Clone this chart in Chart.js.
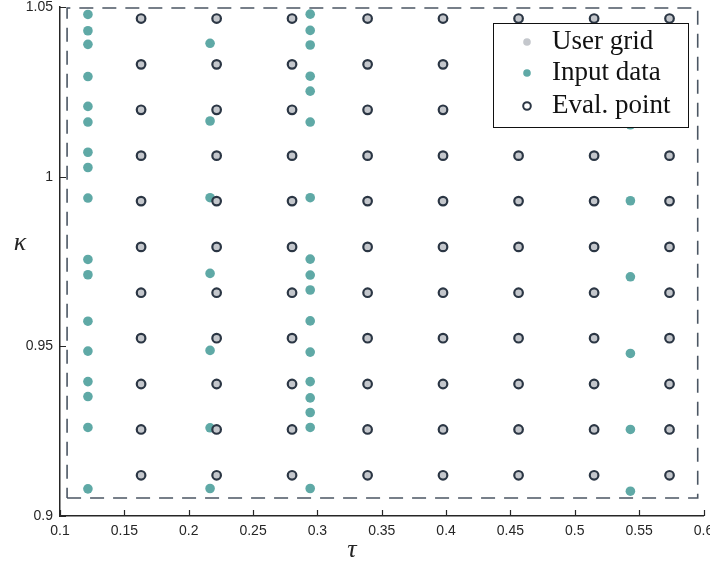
<!DOCTYPE html>
<html>
<head>
<meta charset="utf-8">
<script src="https://cdn.jsdelivr.net/npm/chart.js@4.4.1/dist/chart.umd.min.js"></script>
<style>
  html, body { margin: 0; padding: 0; background: #fff; }
</style>
</head>
<body>
<canvas id="c" width="710" height="566"></canvas>
<script>
// user grid / evaluation points (same lattice)
const gridTau = [0.163, 0.2217, 0.2803, 0.339, 0.3976, 0.4563, 0.515, 0.5736];
const gridKappa = [0.912, 0.9255, 0.9389, 0.9524, 0.9658, 0.9793, 0.9928, 1.0062, 1.0197, 1.0331, 1.0466];

// input data, one column of kappa values per tau
const inputTau = [0.1217, 0.2166, 0.2944, 0.5432];
const inputKappa = [
  [1.0478, 1.043, 1.039, 1.0295, 1.0207, 1.0161, 1.0072, 1.0027, 0.9937, 0.9756, 0.9711,
   0.9574, 0.9486, 0.9396, 0.9352, 0.9261, 0.908],
  [1.0393, 1.0164, 0.9938, 0.9715, 0.9488, 0.926, 0.9081],
  [1.0479, 1.0431, 1.0388, 1.0296, 1.0252, 1.0161, 0.9938, 0.9757, 0.971, 0.9666, 0.9575,
   0.9483, 0.9396, 0.9348, 0.9305, 0.9261, 0.9081],
  [1.0153, 0.9929, 0.9705, 0.9479, 0.9255, 0.9073]
];

// dashed bounding box of the domain
const boxTau = [0.1055, 0.5955];
const boxKappa = [0.9053, 1.0497];

const tauTicks = [0.1, 0.15, 0.2, 0.25, 0.3, 0.35, 0.4, 0.45, 0.5, 0.55, 0.6];
const kappaTicks = [0.9, 0.95, 1, 1.05];

const legendLabels = ["User grid", "Input data", "Eval. point"];

const TEAL = "#5fa9a6";
const GREY = "#c4c7cc";
const DARK = "#2b3644";

const gridPts = [];
gridTau.forEach(t => gridKappa.forEach(k => gridPts.push({x: t, y: k})));

const inputPts = [];
inputTau.forEach((t, i) => inputKappa[i].forEach(k => inputPts.push({x: t, y: k})));

const boxPts = [
  {x: boxTau[0], y: boxKappa[0]}, {x: boxTau[1], y: boxKappa[0]},
  {x: boxTau[1], y: boxKappa[1]}, {x: boxTau[0], y: boxKappa[1]},
  {x: boxTau[0], y: boxKappa[0]}
];

const fmt = v => String(Number(v.toFixed(2)));

const decor = {
  id: "decor",
  afterDraw(chart) {
    const {ctx, chartArea: a, scales: {x, y}} = chart;
    ctx.save();
    // inward ticks
    ctx.strokeStyle = "#262626";
    ctx.lineWidth = 1.2;
    ctx.beginPath();
    x.ticks.forEach(t => {
      const p = Math.round(x.getPixelForValue(t.value)) + 0.5;
      ctx.moveTo(p, a.bottom); ctx.lineTo(p, a.bottom - 6);
    });
    y.ticks.forEach(t => {
      const p = Math.round(y.getPixelForValue(t.value)) + 0.5;
      ctx.moveTo(a.left, p); ctx.lineTo(a.left + 6, p);
    });
    ctx.stroke();

    // axis titles
    ctx.fillStyle = "#262626";
    ctx.font = 'italic 26px "Liberation Serif"';
    ctx.textAlign = "center";
    ctx.textBaseline = "middle";
    ctx.fillText("\u03c4", 352, 550);
    ctx.fillText("\u03ba", 20, 243);

    // legend
    const lx = 493, ly = 23, lw = 195, lh = 104;
    ctx.fillStyle = "#fff";
    ctx.fillRect(lx, ly, lw, lh);
    ctx.strokeStyle = "#111";
    ctx.lineWidth = 1;
    ctx.strokeRect(lx + 0.5, ly + 0.5, lw, lh);
    const rows = [42, 73, 106];
    ctx.font = '27px "Liberation Serif"';
    ctx.textAlign = "left";
    rows.forEach((ry, i) => {
      ctx.beginPath();
      ctx.arc(527, ry, 3.8, 0, Math.PI * 2);
      if (i === 2) {
        ctx.strokeStyle = DARK; ctx.lineWidth = 2; ctx.stroke();
      } else {
        ctx.fillStyle = i === 0 ? GREY : TEAL; ctx.fill();
      }
      ctx.fillStyle = "#111";
      ctx.fillText(legendLabels[i], 552, ry);
    });
    ctx.restore();
  }
};

new Chart(document.getElementById("c"), {
  type: "scatter",
  data: {
    datasets: [
      {
        label: legendLabels[2], data: gridPts, order: 0,
        pointRadius: 4.3, pointBackgroundColor: "rgba(0,0,0,0)",
        pointBorderColor: DARK, pointBorderWidth: 2.2
      },
      {
        label: legendLabels[0], data: gridPts, order: 1,
        pointRadius: 4, pointBackgroundColor: GREY, pointBorderWidth: 0
      },
      {
        label: legendLabels[1], data: inputPts, order: 2,
        pointRadius: 4.8, pointBackgroundColor: TEAL, pointBorderWidth: 0
      },
      {
        label: "box", data: boxPts, order: 3, type: "line", showLine: true,
        pointRadius: 0, borderColor: "#4b5663", borderWidth: 1.6,
        borderDash: [14, 9], fill: false, clip: false
      }
    ]
  },
  options: {
    responsive: false,
    animation: false,
    devicePixelRatio: 1,
    layout: { padding: { top: 7, right: 4, left: 0, bottom: 0 } },
    plugins: { legend: { display: false }, tooltip: { enabled: false } },
    scales: {
      x: {
        type: "linear", min: 0.1, max: 0.6,
        afterBuildTicks: s => { s.ticks = tauTicks.map(v => ({value: v})); },
        afterFit: s => { s.height = 50; s.paddingLeft = 0; s.paddingRight = 0; },
        grid: { display: true, drawOnChartArea: false, drawTicks: false },
        border: { display: true, color: "#262626", width: 1.5 },
        ticks: {
          padding: 7, color: "#262626", maxRotation: 0, autoSkip: false,
          font: { family: '"Liberation Sans"', size: 14 },
          callback: v => fmt(v)
        }
      },
      y: {
        type: "linear", min: 0.9, max: 1.05,
        afterBuildTicks: s => { s.ticks = kappaTicks.map(v => ({value: v})); },
        afterFit: s => { s.width = 60; s.paddingTop = 0; s.paddingBottom = 0; },
        grid: { display: true, drawOnChartArea: false, drawTicks: false },
        border: { display: true, color: "#262626", width: 1.5 },
        ticks: {
          padding: 7, color: "#262626", autoSkip: false,
          font: { family: '"Liberation Sans"', size: 14 },
          callback: v => fmt(v)
        }
      }
    }
  },
  plugins: [decor]
});
</script>
</body>
</html>
